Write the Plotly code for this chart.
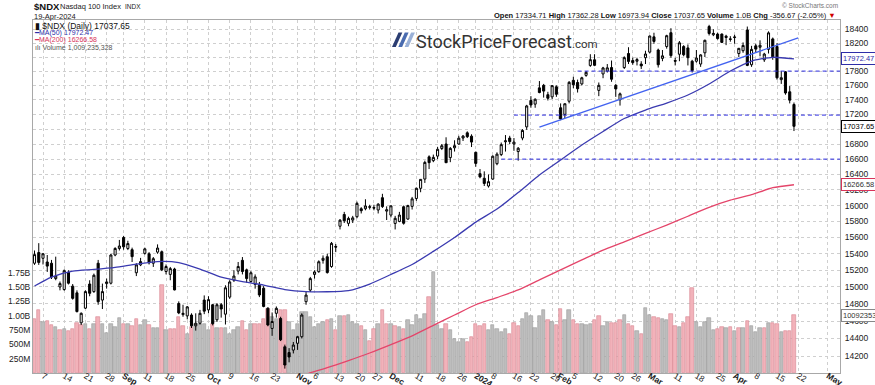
import numpy as np
import pandas as pd
import plotly.graph_objects as go

# ---------------- data ----------------
FIRST_SESSION = "2023-08-03"
LAST_CALENDAR_DAY = "2024-05-17"
HOLIDAYS = ["2023-09-04", "2023-11-23", "2023-12-25", "2024-01-01",
            "2024-01-15", "2024-02-19", "2024-03-29"]

OPEN = [15285, 15415, 15345, 15300, 15285, 15100, 15000, 14970, 15175, 15010,
        14930, 14580, 14750, 15035, 14945, 15285, 14845, 15040, 15045, 15385,
        15465, 15600, 15465, 15450, 15170, 15265, 15405, 15400, 15285, 15420,
        15425, 15185, 15150, 15215, 14805, 14675, 14660, 14670, 14545, 14575,
        14845, 14730, 14790, 14615, 14790, 14680, 14880, 15080, 15190, 15320,
        15205, 15065, 15030, 15020, 14985, 14750, 14515, 14690, 14630, 14305,
        14240, 14268, 14345, 14420, 14826, 14963, 15150, 15183, 15320, 15364,
        15245, 15490, 15740, 15887, 15776, 15817, 15859, 15960, 15960, 15985,
        15975, 15944, 16100, 15930, 15880, 15775, 15800, 15985, 15830, 15990,
        16090, 16220, 16340, 16630, 16580, 16640, 16740, 16800, 16620, 16750,
        16800, 16880, 16950, 16905, 16690, 16410, 16350, 16250, 16340, 16540,
        16660, 16830, 16880, 16800, 16700, 16880, 17030, 17390, 17340, 17565,
        17600, 17470, 17440, 17580, 17290, 17200, 17380, 17670, 17640, 17620,
        17740, 17880, 17960, 17530, 17760, 17800, 17850, 17600, 17400, 17850,
        18050, 17950, 17940, 17900, 17990, 18070, 18290, 18100, 17980, 18150,
        18350, 17950, 18040, 18150, 18130, 17940, 17940, 17900, 18060, 18440,
        18320, 18330, 18330, 18300, 18260, 18280, 18050, 18090, 18390, 17890,
        18160, 18140, 17960, 18110, 18260, 18150, 17680, 17790, 17510, 17334.71]

HIGH = [15440, 15530, 15410, 15385, 15325, 15365, 15065, 15210, 15200, 15035,
        14960, 14700, 14960, 15080, 15160, 15325, 15040, 15100, 15400, 15480,
        15570, 15620, 15560, 15475, 15285, 15350, 15475, 15420, 15360, 15515,
        15440, 15270, 15240, 15230, 14830, 14790, 14775, 14690, 14690, 14730,
        14900, 14890, 14800, 14810, 14810, 15020, 15080, 15200, 15300, 15360,
        15220, 15190, 15150, 15060, 15010, 14760, 14700, 14770, 14650, 14330,
        14290, 14360, 14430, 14690, 14940, 15120, 15200, 15320, 15380, 15400,
        15545, 15520, 15830, 15920, 15860, 15870, 16050, 15980, 16080, 16010,
        16010, 16030, 16150, 15990, 16000, 15870, 15920, 16000, 16010, 16110,
        16230, 16340, 16580, 16650, 16660, 16760, 16800, 16890, 16760, 16850,
        16910, 16920, 16970, 16930, 16700, 16470, 16440, 16400, 16650, 16690,
        16820, 16920, 16910, 16880, 16760, 17000, 17330, 17450, 17420, 17660,
        17620, 17510, 17600, 17600, 17350, 17350, 17660, 17720, 17680, 17720,
        17800, 18040, 18040, 17640, 17860, 17900, 17950, 17620, 17500, 18010,
        18140, 17990, 17990, 17940, 18090, 18310, 18350, 18120, 18100, 18320,
        18416, 17990, 18230, 18170, 18180, 17960, 18100, 18040, 18250, 18465,
        18400, 18350, 18340, 18320, 18300, 18320, 18130, 18210, 18440, 18160,
        18190, 18240, 18060, 18370, 18280, 18200, 17800, 17800, 17590, 17362.28]

LOW = [15265, 15265, 15270, 15180, 15095, 15080, 14960, 14955, 15030, 14850,
       14700, 14555, 14740, 14890, 14930, 14790, 14740, 14980, 15030, 15370,
       15440, 15450, 15445, 15300, 15130, 15250, 15390, 15270, 15240, 15400,
       15190, 15150, 15080, 14960, 14680, 14650, 14620, 14520, 14490, 14560,
       14680, 14690, 14550, 14590, 14640, 14560, 14860, 15060, 15150, 15150,
       15050, 15050, 14980, 14880, 14760, 14540, 14430, 14640, 14370, 14060,
       14130, 14230, 14270, 14400, 14790, 14940, 15100, 15170, 15280, 15160,
       15230, 15420, 15700, 15780, 15740, 15780, 15840, 15900, 15940, 15950,
       15940, 15900, 15970, 15818, 15850, 15700, 15790, 15760, 15820, 15950,
       16060, 16170, 16290, 16470, 16560, 16600, 16720, 16550, 16560, 16700,
       16790, 16840, 16880, 16760, 16500, 16350, 16250, 16230, 16330, 16520,
       16640, 16700, 16800, 16710, 16580, 16850, 16990, 17290, 17290, 17490,
       17430, 17390, 17410, 17440, 17120, 17150, 17350, 17560, 17500, 17600,
       17720, 17860, 17870, 17450, 17700, 17780, 17650, 17440, 17320, 17830,
       17900, 17890, 17880, 17830, 17900, 18050, 18190, 17850, 17940, 18120,
       17990, 17880, 17940, 18010, 17880, 17780, 17920, 17860, 18000, 18310,
       18300, 18250, 18200, 18170, 18220, 18190, 18000, 18060, 17870, 17860,
       18070, 18010, 17930, 18050, 17960, 17680, 17620, 17470, 17350, 16973.94]

CLOSE = [15390, 15295, 15400, 15250, 15120, 15130, 15040, 15195, 15045, 14865,
         14710, 14690, 14945, 14925, 15140, 14825, 14945, 15060, 15385, 15465,
         15495, 15485, 15525, 15365, 15265, 15305, 15460, 15290, 15340, 15470,
         15205, 15245, 15220, 14965, 14695, 14690, 14765, 14545, 14575, 14690,
         14715, 14850, 14570, 14790, 14740, 14990, 15060, 15130, 15245, 15185,
         15100, 15170, 15120, 14905, 14770, 14555, 14595, 14748, 14385, 14100,
         14190, 14325, 14420, 14670, 14904, 15100, 15180, 15303, 15345, 15172,
         15528, 15482, 15815, 15808, 15838, 15845, 16028, 15935, 15995, 15980,
         15968, 16018, 15987, 15947, 15997, 15839, 15880, 15777, 16000, 16085,
         16221, 16336, 16557, 16554, 16623, 16730, 16777, 16553, 16742, 16778,
         16878, 16906, 16898, 16826, 16544, 16368, 16283, 16306, 16638, 16666,
         16792, 16842, 16833, 16826, 16744, 16982, 17315, 17329, 17407, 17500,
         17520, 17421, 17596, 17476, 17137, 17345, 17642, 17608, 17553, 17706,
         17783, 17962, 17882, 17600, 17845, 17846, 17686, 17550, 17482, 17991,
         17937, 17920, 17964, 17874, 18043, 18302, 18224, 17890, 18017, 18307,
         18020, 17941, 18204, 18032, 17990, 17808, 17985, 18030, 18240, 18339,
         18340, 18265, 18210, 18281, 18255, 18287, 18124, 18166, 17881, 18109,
         18113, 18168, 18042, 18348, 18003, 17706, 17707, 17494, 17394.32, 17037.65]

VOLUME_M = [949, 1094, 890, 908, 832, 803, 745, 774, 727, 774,
            873, 832, 850, 762, 850, 978, 850, 704, 861, 803,
            966, 850, 850, 826, 949, 832, 931, 832, 791, 791,
            1531, 745, 762, 774, 978, 815, 675, 803, 850, 861,
            850, 756, 850, 791, 791, 791, 675, 745, 803, 902,
            757, 861, 850, 850, 949, 1112, 978, 949, 1106, 1106,
            890, 745, 861, 1065, 1065, 978, 803, 861, 890, 931,
            949, 745, 990, 990, 1007, 890, 861, 815, 745, 560,
            774, 861, 1094, 861, 861, 815, 803, 774, 920, 832,
            1007, 949, 1036, 1328, 1760, 832, 774, 861, 745, 600,
            541, 600, 541, 628, 861, 815, 850, 757, 832, 774,
            716, 774, 687, 873, 815, 949, 1054, 990, 786, 990,
            1106, 932, 890, 835, 1124, 932, 1106, 920, 861, 861,
            832, 861, 932, 990, 815, 890, 878, 873, 920, 1008,
            861, 830, 730, 675, 1142, 1013, 984, 955, 943, 926,
            1031, 826, 809, 867, 984, 1491, 885, 797, 885, 955,
            751, 768, 797, 780, 797, 734, 791, 791, 914, 826,
            710, 780, 791, 879, 867, 850, 722, 739, 739, 1009.235328]

PREV_CLOSE = 15396.0  # close of the session before the first bar

MA50_DATES = ["2023-08-03", "2023-08-09", "2023-08-16", "2023-08-23", "2023-08-30",
              "2023-09-07", "2023-09-14", "2023-09-21", "2023-09-28", "2023-10-05",
              "2023-10-12", "2023-10-19", "2023-10-26", "2023-11-02", "2023-11-09",
              "2023-11-16", "2023-11-24", "2023-12-01", "2023-12-08", "2023-12-15",
              "2023-12-22", "2024-01-02", "2024-01-09", "2024-01-17", "2024-01-24",
              "2024-01-31", "2024-02-07", "2024-02-14", "2024-02-22", "2024-02-29",
              "2024-03-07", "2024-03-14", "2024-03-21", "2024-03-28", "2024-04-05",
              "2024-04-12", "2024-04-19"]
MA50_VALUES = [15011, 15118, 15190, 15210, 15235, 15275, 15305, 15293, 15215, 15118,
               15064, 15023, 14969, 14945, 14943, 14957, 15035, 15149, 15269, 15429,
               15600, 15791, 15956, 16166, 16392, 16588, 16787, 16968, 17143, 17259,
               17355, 17466, 17619, 17801, 17943, 17996, 17972.47]

MA200_DATES = ["2023-10-26", "2023-11-02", "2023-11-09", "2023-11-16", "2023-11-24",
               "2023-12-01", "2023-12-08", "2023-12-15", "2023-12-22", "2024-01-02",
               "2024-01-09", "2024-01-17", "2024-01-24", "2024-01-31", "2024-02-07",
               "2024-02-14", "2024-02-22", "2024-02-29", "2024-03-07", "2024-03-14",
               "2024-03-21", "2024-03-28", "2024-04-05", "2024-04-12", "2024-04-19"]
MA200_VALUES = [13930, 14000, 14070, 14150, 14235, 14330, 14430, 14550, 14670, 14790,
                14875, 14965, 15085, 15205, 15325, 15445, 15545, 15650, 15755, 15865,
                15978, 16068, 16138, 16228, 16266.58]

LEVELS = [17800, 17190, 16600]
LEVEL_FROM = ["2024-02-06", "2024-01-16", "2024-01-10"]
TREND_DATES = ["2024-01-24", "2024-04-22"]
TREND_VALUES = [17026, 18275]

PRICE_TICKS = [14200, 14400, 14600, 14800, 15000, 15200, 15400, 15600, 15800, 16000,
               16200, 16400, 16600, 16800, 17000, 17200, 17400, 17600, 17800, 18000,
               18200, 18400]
VOL_TICKS = [250e6, 500e6, 750e6, 1.0e9, 1.25e9, 1.5e9, 1.75e9]
VOL_TICK_TEXT = ["250M", "500M", "750M", "1.00B", "1.25B", "1.50B", "1.75B"]

TICK_DATES = ["2023-08-07", "2023-08-14", "2023-08-21", "2023-08-28", "2023-09-01",
              "2023-09-11", "2023-09-18", "2023-09-25", "2023-10-02", "2023-10-09",
              "2023-10-16", "2023-10-23", "2023-11-01", "2023-11-06", "2023-11-13",
              "2023-11-20", "2023-11-27", "2023-12-01", "2023-12-11", "2023-12-18",
              "2023-12-26", "2024-01-02", "2024-01-08", "2024-01-16", "2024-01-22",
              "2024-01-29", "2024-02-01", "2024-02-05", "2024-02-12", "2024-02-20",
              "2024-02-26", "2024-03-01", "2024-03-11", "2024-03-18", "2024-03-25",
              "2024-04-01", "2024-04-08", "2024-04-15", "2024-04-22", "2024-05-01"]
TICK_LABELS = ["7", "14", "21", "28", "Sep", "11", "18", "25", "Oct", "9",
               "16", "23", "Nov", "6", "13", "20", "27", "Dec", "11", "18",
               "26", "2024", "8", "16", "22", "29", "Feb", "5", "12", "20",
               "26", "Mar", "11", "18", "25", "Apr", "8", "15", "22", "May"]

# ---------------- trading calendar (x positions) ----------------
sessions = pd.bdate_range(FIRST_SESSION, LAST_CALENDAR_DAY)
sessions = sessions[~sessions.isin(pd.to_datetime(HOLIDAYS))]
POS = {d.strftime("%Y-%m-%d"): i for i, d in enumerate(sessions)}

n = len(CLOSE)
x = np.arange(n)

PX_PER_DAY = 4.2428
X_REF = POS["2023-08-07"]
XR = [X_REF - (43 - 33) / PX_PER_DAY, X_REF + (840 - 43) / PX_PER_DAY]
YR = [np.log10(14011), np.log10(18536)]
VOL_TOP = 6.171e9

FONT = "Liberation Sans, Arial, sans-serif"

NUDGE = {"Nov": -0.9, "Feb": -1.4}
major_vals = [POS[d] + NUDGE.get(t, 0) for d, t in zip(TICK_DATES, TICK_LABELS)]
major_text = [f"<b>{t}</b>" if (not t.isdigit() or len(t) == 4) else t for t in TICK_LABELS]

minor_vals = []
for i, d in enumerate(sessions):
    if i == 0 or d.isocalendar()[1] != sessions[i - 1].isocalendar()[1]:
        if min(abs(i - m) for m in major_vals) > 3 and XR[0] <= i <= XR[1]:
            minor_vals.append(i)

prev = [PREV_CLOSE] + CLOSE[:-1]
down = [c < p for c, p in zip(CLOSE, prev)]
bar_fill = ["#f2b2ba" if d else "#bdbdbd" for d in down]
bar_edge = ["#d98592" if d else "#9a9a9a" for d in down]

# ---------------- figure ----------------
fig = go.Figure()

fig.add_trace(go.Bar(
    x=x, y=[v * 1e6 for v in VOLUME_M], yaxis="y", width=0.8,
    marker=dict(color=bar_fill, line=dict(color=bar_edge, width=0.6)),
    hoverinfo="skip"))

fig.add_trace(go.Scatter(
    x=[POS[d] for d in MA200_DATES], y=MA200_VALUES, yaxis="y2", mode="lines",
    line=dict(color="#e4456a", width=1.3, shape="spline", smoothing=0.6),
    hoverinfo="skip"))
fig.add_trace(go.Scatter(
    x=[POS[d] for d in MA50_DATES], y=MA50_VALUES, yaxis="y2", mode="lines",
    line=dict(color="#3a3ab0", width=1.3, shape="spline", smoothing=0.6),
    hoverinfo="skip"))

for lvl, start in zip(LEVELS, LEVEL_FROM):
    fig.add_trace(go.Scatter(
        x=[POS[start], XR[1]], y=[lvl, lvl], yaxis="y2", mode="lines",
        line=dict(color="#2a2ae0", width=1, dash="4px,3px"), hoverinfo="skip"))

fig.add_trace(go.Scatter(
    x=[POS[d] for d in TREND_DATES], y=TREND_VALUES, yaxis="y2", mode="lines",
    line=dict(color="#4363f0", width=1.3), hoverinfo="skip"))

fig.add_trace(go.Candlestick(
    x=x, open=OPEN, high=HIGH, low=LOW, close=CLOSE, yaxis="y2",
    increasing=dict(line=dict(color="black", width=1), fillcolor="white"),
    decreasing=dict(line=dict(color="black", width=1), fillcolor="black"),
    whiskerwidth=0, hoverinfo="skip"))

grid = dict(showgrid=True, gridcolor="#cfcfcf", griddash="dot", gridwidth=1)
fig.update_layout(
    width=875, height=385,
    margin=dict(l=33, r=35, t=20, b=12, autoexpand=False),
    paper_bgcolor="white", plot_bgcolor="white",
    showlegend=False, bargap=0,
    xaxis=dict(range=XR, tickmode="array", tickvals=major_vals, ticktext=major_text,
               automargin=False, ticklabelstandoff=-6,
               zeroline=False, showline=True, linecolor="#a8a8a8", mirror=True,
               ticks="", tickfont=dict(family=FONT, size=8.5, color="#222"),
               rangeslider=dict(visible=False),
               minor=dict(tickmode="array", tickvals=minor_vals, ticks="",
                          showgrid=True, gridcolor="#cfcfcf", griddash="dot"),
               **grid),
    yaxis=dict(range=[0, VOL_TOP], tickmode="array", tickvals=VOL_TICKS,
               automargin=False,
               ticktext=VOL_TICK_TEXT, side="left", showgrid=False, zeroline=False,
               showline=True, linecolor="#a8a8a8", ticks="",
               tickfont=dict(family=FONT, size=8.5, color="#222")),
    yaxis2=dict(type="log", range=YR, overlaying="y", side="right",
                automargin=False,
                tickmode="array", tickvals=PRICE_TICKS,
                ticktext=[str(v) for v in PRICE_TICKS],
                zeroline=False, showline=True, linecolor="#a8a8a8", ticks="",
                ticklabelstandoff=2,
                tickfont=dict(family=FONT, size=8.5, color="#222"), **grid),
)


def px2x(px):
    return (px - 33) / 807


def px2y(py):
    return (373 - py) / 353


def note(text, xpx, ypx, size, color="#111", xanchor="left", family=FONT):
    fig.add_annotation(text=text, x=px2x(xpx), y=px2y(ypx), xref="paper", yref="paper",
                       xanchor=xanchor, yanchor="middle", showarrow=False,
                       font=dict(family=family, size=size, color=color))


last_date = sessions[n - 1]
chg = CLOSE[-1] - CLOSE[-2]
pct = chg / CLOSE[-2] * 100
vol_last = int(round(VOLUME_M[-1] * 1e6))

note("<b>$NDX</b>", 32, 6.5, 9.5, "#111")
note("Nasdaq 100 Index", 58, 6.5, 7.5, "#222")
note("INDX", 123, 6.5, 6.5, "#222")
note(last_date.strftime("%d-%b-%Y"), 32, 16, 7.5, "#222")
note("© StockCharts.com", 840, 6, 6.5, "#777", xanchor="right")
info = (f"<b>Open</b> {OPEN[-1]:.2f} <b>High</b> {HIGH[-1]:.2f} <b>Low</b> {LOW[-1]:.2f} "
        f"<b>Close</b> {CLOSE[-1]:.2f} <b>Volume</b> {VOLUME_M[-1] / 1000:.1f}B "
        f"<b>Chg</b> {chg:.2f} ({pct:.2f}%) <span style='color:#d00000'>▼</span>")
note(info, 838, 15.5, 7.5, "#111", xanchor="right")

note(f"▮ $NDX (Daily) {CLOSE[-1]:.2f}", 32.5, 25.5, 8.5, "#111")
note(f"━MA(50) {MA50_VALUES[-1]:.2f}", 32, 33, 7, "#2e2ea8")
note(f"━MA(200) {MA200_VALUES[-1]:.2f}", 32, 40.5, 7, "#d8345a")
note(f"ılı Volume {vol_last:,}", 33, 48, 7, "#555")

# logo
note("StockPriceForecast<span style='font-size:11.5px'>.com</span>", 414, 41, 18,
     "#333", family="Roboto, Arial")
slash_colors = ["#2b3d72", "#4a6cb0", "#9ab1d8"]
for k, col in enumerate(slash_colors):
    xs = [392 + 6.3 * k, 395.8 + 6.3 * k, 402.3 + 6.3 * k, 398.5 + 6.3 * k]
    ys = [47, 47, 32.5, 32.5]
    path = "M " + " L ".join(f"{px2x(a)},{px2y(b)}" for a, b in zip(xs, ys)) + " Z"
    fig.add_shape(type="path", path=path, xref="paper", yref="paper",
                  fillcolor=col, line=dict(width=0))


def tag(yval, yref, text, border, color):
    fig.add_annotation(text=text, x=1, xref="paper", xanchor="left", xshift=1,
                       y=yval, yref=yref, yanchor="middle", showarrow=False,
                       font=dict(family=FONT, size=7.5, color=color),
                       bgcolor="white", bordercolor=border, borderwidth=1, borderpad=1)


tag(np.log10(MA50_VALUES[-1]), "y2", f"{MA50_VALUES[-1]:.2f}", "#2e2ea8", "#2e2ea8")
tag(np.log10(CLOSE[-1]), "y2", f"{CLOSE[-1]:.2f}", "#000000", "#000000")
tag(np.log10(MA200_VALUES[-1]), "y2", f"{MA200_VALUES[-1]:.2f}", "#d8345a", "#333")
tag(vol_last, "y", f"{vol_last}", "#888888", "#333")

fig.write_html("out.html", config={"displayModeBar": False},
               post_script="document.body.style.margin='0px';")
